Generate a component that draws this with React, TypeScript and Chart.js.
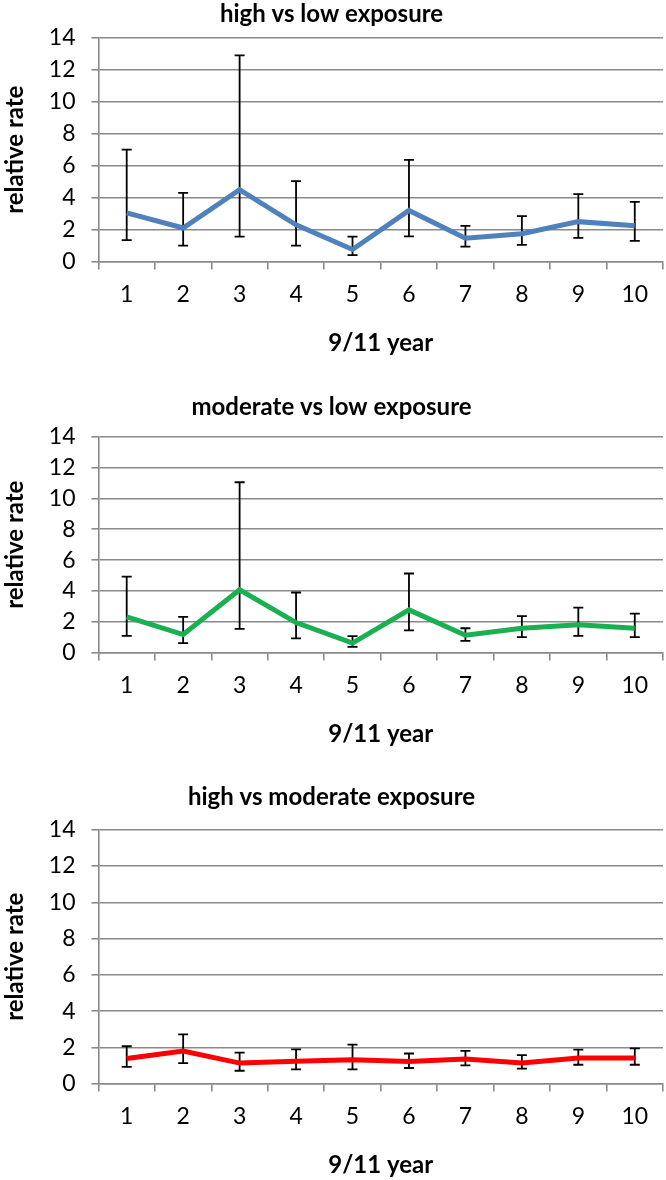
import React, { useEffect, useRef } from "react";
import { Chart, registerables } from "chart.js";

Chart.register(...registerables);

const years = ["1", "2", "3", "4", "5", "6", "7", "8", "9", "10"];
const yTicks = [0, 2, 4, 6, 8, 10, 12, 14];

const highLowRate = [3.05, 2.1, 4.5, 2.3, 0.76, 3.2, 1.46, 1.74, 2.5, 2.24];
const highLowLower = [1.34, 1.0, 1.56, 1.0, 0.4, 1.58, 0.94, 1.04, 1.48, 1.3];
const highLowUpper = [7.0, 4.3, 12.9, 5.04, 1.56, 6.36, 2.24, 2.84, 4.22, 3.74];

const modLowRate = [2.32, 1.17, 4.07, 1.95, 0.62, 2.77, 1.13, 1.58, 1.8, 1.58];
const modLowLower = [1.09, 0.62, 1.54, 0.92, 0.37, 1.44, 0.76, 1.0, 1.09, 1.0];
const modLowUpper = [4.93, 2.32, 11.05, 3.9, 1.07, 5.13, 1.58, 2.36, 2.92, 2.53];

const highModRate = [1.39, 1.8, 1.13, 1.23, 1.31, 1.22, 1.36, 1.13, 1.41, 1.41];
const highModLower = [0.92, 1.13, 0.71, 0.78, 0.78, 0.86, 1.0, 0.83, 1.04, 1.04];
const highModUpper = [2.06, 2.72, 1.71, 1.89, 2.15, 1.66, 1.8, 1.57, 1.87, 1.94];

const FONT = "Lato, Carlito, Calibri, sans-serif";
const GRID = "#8a8a8a";

const errorBarPlugin = {
  id: "errorBars",
  beforeDatasetsDraw(chart: any, _args: any, opts: any) {
    const { ctx } = chart;
    const x = chart.scales.x;
    const y = chart.scales.y;
    const lower: number[] = opts.lower || [];
    const upper: number[] = opts.upper || [];
    ctx.save();
    ctx.strokeStyle = "#000";
    ctx.lineWidth = 1.8;
    for (let i = 0; i < lower.length; i++) {
      const px = x.getPixelForValue(i);
      const yl = y.getPixelForValue(lower[i]);
      const yu = y.getPixelForValue(upper[i]);
      ctx.beginPath();
      ctx.moveTo(px, yl);
      ctx.lineTo(px, yu);
      ctx.moveTo(px - 5, yl);
      ctx.lineTo(px + 5, yl);
      ctx.moveTo(px - 5, yu);
      ctx.lineTo(px + 5, yu);
      ctx.stroke();
    }
    ctx.restore();
  },
};

type PanelProps = {
  title: string;
  rate: number[];
  lower: number[];
  upper: number[];
  color: string;
  top: number;
  height: number;
  titleGap: number;
};

function Panel({ title, rate, lower, upper, color, top, height, titleGap }: PanelProps) {
  const ref = useRef<HTMLCanvasElement | null>(null);
  useEffect(() => {
    if (!ref.current) return;
    const chart = new Chart(ref.current, {
      type: "line",
      data: {
        labels: years,
        datasets: [
          {
            data: rate,
            borderColor: color,
            backgroundColor: color,
            borderWidth: 5,
            pointRadius: 0,
            tension: 0,
          },
        ],
      },
      plugins: [errorBarPlugin],
      options: {
        animation: false,
        responsive: true,
        maintainAspectRatio: false,
        layout: { padding: { left: 0, right: 3, top: 0, bottom: 0 } },
        plugins: {
          legend: { display: false },
          tooltip: { enabled: false },
          title: {
            display: true,
            text: title,
            color: "#000",
            font: { family: FONT, size: 24, weight: "bold" },
            padding: { top: 0, bottom: titleGap },
          },
          errorBars: { lower, upper },
        } as any,
        scales: {
          x: {
            offset: true,
            grid: {
              offset: true,
              drawOnChartArea: false,
              drawTicks: true,
              tickLength: 8,
              color: GRID,
              lineWidth: 1.6,
            },
            border: { color: GRID, width: 1.6 },
            ticks: {
              color: "#000",
              font: { family: FONT, size: 23 },
              padding: 11,
              maxRotation: 0,
            },
            title: {
              display: true,
              text: "9/11 year",
              color: "#000",
              font: { family: FONT, size: 24, weight: "bold" },
              padding: { top: 10, bottom: 0 },
            },
          },
          y: {
            min: 0,
            max: 14,
            afterBuildTicks: (scale: any) => {
              scale.ticks = yTicks.map((v) => ({ value: v }));
            },
            grid: {
              color: GRID,
              lineWidth: 1.6,
              tickLength: 7,
            },
            border: { color: GRID, width: 1.6 },
            ticks: {
              color: "#000",
              font: { family: FONT, size: 23 },
              padding: 16,
            },
            title: {
              display: true,
              text: "relative rate",
              color: "#000",
              font: { family: FONT, size: 24, weight: "bold" },
              padding: { top: 1, bottom: 3 },
            },
          },
        },
      },
    });
    return () => chart.destroy();
  }, [title, rate, lower, upper, color, titleGap]);
  return (
    <div style={{ position: "absolute", left: 0, top, width: 666, height }}>
      <canvas ref={ref} />
    </div>
  );
}

export default function App() {
  return (
    <div style={{ position: "absolute", left: 0, top: 0, width: 666, height: 1180, background: "#fff" }}>
      <Panel title="high vs low exposure" rate={highLowRate} lower={highLowLower} upper={highLowUpper} color="#4f81bd" top={0} height={358} titleGap={9} />
      <Panel title="moderate vs low exposure" rate={modLowRate} lower={modLowLower} upper={modLowUpper} color="#1aaf50" top={393} height={356} titleGap={15} />
      <Panel title="high vs moderate exposure" rate={highModRate} lower={highModLower} upper={highModUpper} color="#ff0000" top={783} height={397} titleGap={18} />
    </div>
  );
}
